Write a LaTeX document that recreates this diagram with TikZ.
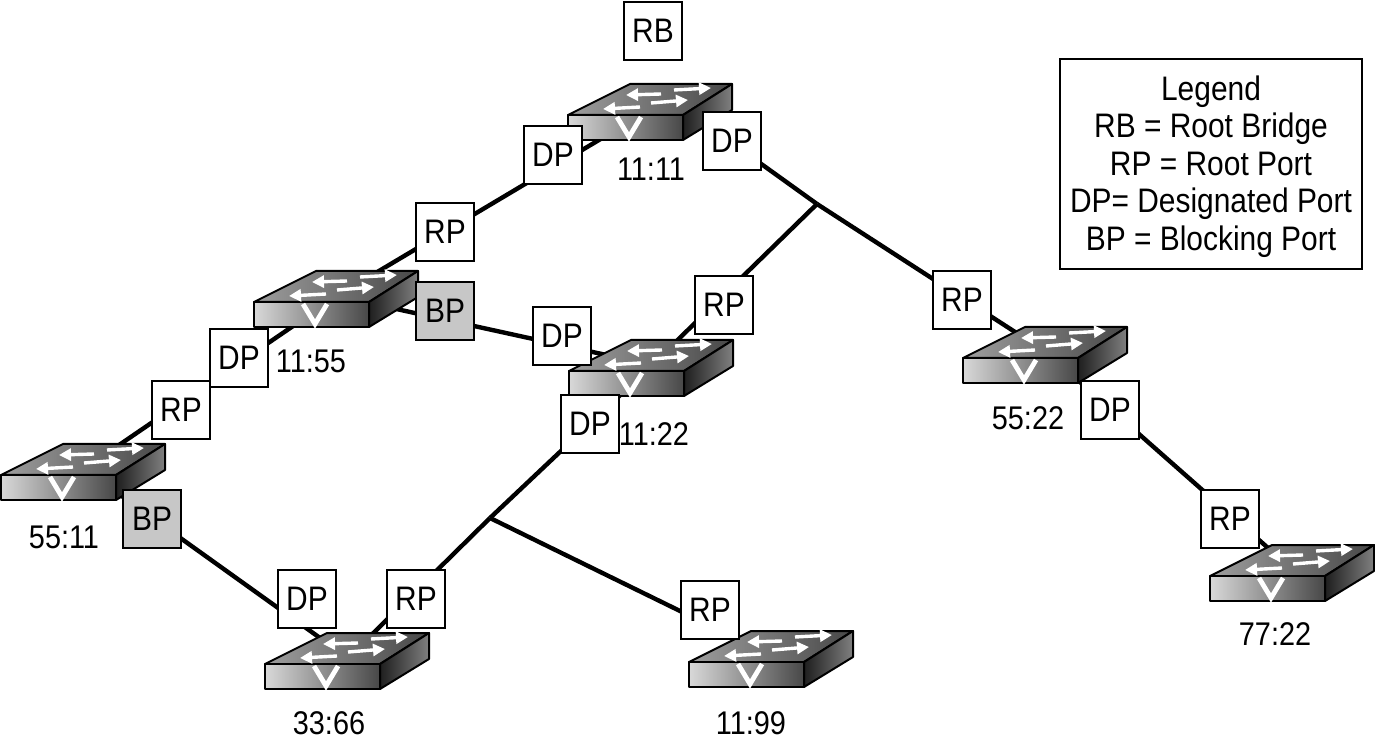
\documentclass[tikz,border=0pt]{standalone}
\usepackage{fontspec}
\setmainfont[FakeStretch=0.88]{Liberation Sans}
\usetikzlibrary{arrows.meta,backgrounds}

\begin{document}
\begin{tikzpicture}[x=0.5pt,y=-0.5pt]
		\tikzset{
			portbox/.style={
				draw, line width=1pt, fill=white, minimum size=29pt, inner sep=0pt, font=\fontsize{17}{20}\selectfont
			},
			blockbox/.style={
				portbox, fill=black!22
			},
			maclabel/.style={
				font=\fontsize{16.4}{20}\selectfont, inner sep=0pt
			},
			link/.style={
				line width=2.2pt
			},
			flow/.style={
				white, line width=1.7pt, -{Triangle[length=6pt,width=6pt]}
			},
			switchbox/.pic={
				\path [draw=black, line width=1pt, line join=round, left color=black!38, right color=black!72]
					(0,0) -- (62,-31) -- (164,-31) -- (115,0) -- cycle;
				\path [draw=black, line width=1pt, line join=round, left color=black!15, right color=black!72]
					(0,0) -- (115,0) -- (115,25) -- (0,25) -- cycle;
				\path [draw=black, line width=1pt, line join=round, left color=black!88, right color=black!50]
					(115,0) -- (164,-31) -- (164,-5) -- (115,25) -- cycle;
				\draw [flow] (93,-21) -- (58,-20);
				\draw [flow] (106,-25) -- (143,-27);
				\draw [flow] (72,-8) -- (35,-6);
				\draw [flow] (83,-12) -- (120,-15);
				\draw [white, line width=2.4pt] (49,2) -- (61,22) -- (73,2);
				\coordinate (-hub) at (83,-6);
				\coordinate (-side) at (132,5);
			}
		}
		
		\useasboundingbox (0,0) rectangle (1375,742);
		
		\foreach \n/\x/\y in {root/568/115, sa/254/302, sb/569/371, sc/963/358, sd/1/475, se/265/664, sf/689/662, sg/1210/576}{
			\pic (\n) at (\x,\y) {switchbox};
		}
		
		\coordinate (jn1) at (817,204);
		\coordinate (jn2) at (490,518);
		
		\foreach \n/\x/\y/\t in {m1/651/169/11:11, m2/311/361/11:55, m3/654/434/11:22, m4/1028/418/55:22, m5/64/537/55:11, m6/329/723/33:66, m7/751/723/11:99, m8/1275/634/77:22}{
			\node [maclabel] (\n) at (\x,\y) {\t};
		}
		
		\foreach \n/\x/\y/\t in {rb/653/31/RB, p1/553/155/DP, p2/732/141/DP, p3/445/232/RP, p5/239/358/DP, p6/181/410/RP, p7/562/336/DP, p8/724/305/RP, p9/962/300/RP, p10/590/424/DP, p11/1110/410/DP, p12/1230/519/RP, p14/307/599/DP, p15/416/599/RP, p16/710/610/RP}{
			\node [portbox] (\n) at (\x,\y) {\t};
		}
		
		\foreach \n/\x/\y/\t in {p4/445/311/BP, p13/152/519/BP}{
			\node [blockbox] (\n) at (\x,\y) {\t};
		}
		
		\node [draw, line width=1pt, minimum width=151pt, minimum height=105pt, inner sep=0pt] (legend) at (1211,164) {};
		\node [inner sep=0pt, align=center, font=\fontsize{17}{18.7}\selectfont] (legendtext) at (1211,166.5) {Legend\\RB = Root Bridge\\RP = Root Port\\DP= Designated Port\\BP = Blocking Port};
		
		\begin{pgfonlayer}{background}
			\draw [link] (root-hub) -- (sa-hub);
			\draw [link] (sa-hub) -- (sd-hub);
			\draw [link] (sa-hub) -- (sb-hub);
			\draw [link] (root-side) -- (jn1);
			\draw [link] (jn1) -- (sc-hub);
			\draw [link] (jn1) -- (sb-hub);
			\draw [link] (sc-hub) -- (sg-hub);
			\draw [link] (sd-hub) -- (se-hub);
			\draw [link] (sb-hub) -- (jn2);
			\draw [link] (jn2) -- (se-hub);
			\draw [link] (jn2) -- (sf-hub);
		\end{pgfonlayer}
		\end{tikzpicture}
\end{document}
